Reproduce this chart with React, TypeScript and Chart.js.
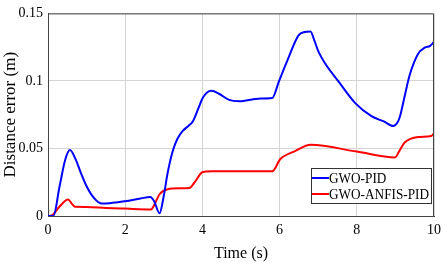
import React, { useEffect, useRef } from "react";
import { Chart, registerables } from "chart.js";

Chart.register(...registerables);

const timeBlue = [0, 0.14, 0.3, 0.45, 0.57, 0.7, 0.85, 1.0, 1.2, 1.38, 1.6, 2.0, 2.4, 2.65, 2.75, 2.89, 3.0, 3.1, 3.23, 3.35, 3.49, 3.65, 3.75, 3.9, 4.0, 4.12, 4.24, 4.43, 4.69, 4.95, 5.46, 5.81, 5.98, 6.2, 6.49, 6.65, 6.8, 6.9, 7.01, 7.18, 7.53, 7.96, 8.38, 8.7, 8.94, 9.05, 9.12, 9.25, 9.37, 9.59, 9.76, 9.9, 10];
const gwoPid = [0, 0.0, 0.022, 0.042, 0.0488, 0.043, 0.032, 0.022, 0.013, 0.0093, 0.0095, 0.011, 0.013, 0.0141, 0.011, 0.002, 0.015, 0.032, 0.048, 0.057, 0.063, 0.067, 0.07, 0.08, 0.087, 0.0915, 0.0927, 0.0905, 0.086, 0.085, 0.0869, 0.0873, 0.0995, 0.115, 0.1337, 0.1362, 0.1366, 0.13, 0.1215, 0.1129, 0.0995, 0.0836, 0.0739, 0.07, 0.0666, 0.069, 0.0739, 0.09, 0.1044, 0.1202, 0.1246, 0.126, 0.1288];

const timeRed = [0, 0.1, 0.3, 0.52, 0.62, 0.7, 1.0, 1.5, 2.0, 2.67, 2.75, 2.89, 3.1, 3.4, 3.66, 3.8, 4.0, 4.26, 5.81, 6.02, 6.4, 6.8, 8.0, 8.99, 9.1, 9.24, 9.59, 9.93, 10];
const gwoAnfisPid = [0, 0.0005, 0.007, 0.0122, 0.009, 0.0068, 0.0067, 0.006, 0.0055, 0.0049, 0.008, 0.0161, 0.0198, 0.0205, 0.0207, 0.025, 0.0324, 0.0331, 0.0331, 0.0422, 0.048, 0.0527, 0.0477, 0.0434, 0.048, 0.0544, 0.0585, 0.0593, 0.0612];

const xTicks = [0, 2, 4, 6, 8, 10];
const yTicks = [0, 0.05, 0.1, 0.15];
const yTickLabels = ["0", "0.05", "0.1", "0.15"];
const seriesNames = ["GWO-PID", "GWO-ANFIS-PID"];
const seriesColors = ["#0000ff", "#ff0000"];

const FONT = "'Liberation Serif', 'Times New Roman', serif";

const legendPlugin = {
  id: "boxLegend",
  afterDatasetsDraw(chart: any) {
    const { ctx, chartArea } = chart;
    const w = 120;
    const h = 35;
    const x = chartArea.right - 3 - w;
    const y = chartArea.bottom - 13 - h;
    ctx.save();
    ctx.fillStyle = "#ffffff";
    ctx.fillRect(x, y, w, h);
    ctx.strokeStyle = "#333333";
    ctx.lineWidth = 1;
    ctx.strokeRect(x + 0.5, y + 0.5, w, h);
    ctx.font = `15px ${FONT}`;
    ctx.textBaseline = "middle";
    const textW = Math.max(...seriesNames.map((n) => ctx.measureText(n).width));
    const sx = Math.min(1, 100 / textW);
    seriesNames.forEach((name, i) => {
      const cy = y + 10 + i * 16;
      ctx.strokeStyle = seriesColors[i];
      ctx.lineWidth = 2;
      ctx.beginPath();
      ctx.moveTo(x + 1, cy);
      ctx.lineTo(x + 18, cy);
      ctx.stroke();
      ctx.fillStyle = "#000000";
      ctx.save();
      ctx.translate(x + 18, cy + 1);
      ctx.scale(sx, 1);
      ctx.fillText(name, 0, 0);
      ctx.restore();
    });
    ctx.restore();
  },
};

export default function App() {
  const ref = useRef<HTMLCanvasElement | null>(null);
  useEffect(() => {
    if (!ref.current) return;
    const chart = new Chart(ref.current, {
      type: "line",
      data: {
        datasets: [
          {
            label: seriesNames[0],
            data: timeBlue.map((t, i) => ({ x: t, y: gwoPid[i] })),
            borderColor: seriesColors[0],
            borderWidth: 2,
            pointRadius: 0,
            cubicInterpolationMode: "monotone",
          },
          {
            label: seriesNames[1],
            data: timeRed.map((t, i) => ({ x: t, y: gwoAnfisPid[i] })),
            borderColor: seriesColors[1],
            borderWidth: 2,
            pointRadius: 0,
            cubicInterpolationMode: "monotone",
          },
        ],
      },
      options: {
        animation: false,
        responsive: false,
        maintainAspectRatio: false,
        layout: { padding: { left: 0, right: 11, top: 11, bottom: 0 } },
        plugins: { legend: { display: false }, tooltip: { enabled: false } },
        scales: {
          x: {
            type: "linear",
            min: 0,
            max: 10,
            afterBuildTicks: (s: any) => {
              s.ticks = xTicks.map((v) => ({ value: v }));
            },
            afterFit: (s: any) => {
              s.height = 47;
            },
            ticks: {
              color: "#000",
              font: { family: FONT, size: 14 },
              padding: 6,
              maxRotation: 0,
              callback: (v: any) => String(v),
            },
            grid: { color: "#d4d4d4", drawTicks: false, lineWidth: 1 },
            border: { color: "#444", width: 1 },
            title: {
              display: true,
              text: "Time (s)",
              color: "#000",
              font: { family: FONT, size: 16 },
              padding: { top: 0, bottom: 0 },
            },
          },
          y: {
            type: "linear",
            min: 0,
            max: 0.15,
            afterBuildTicks: (s: any) => {
              s.ticks = yTicks.map((v) => ({ value: v }));
            },
            afterFit: (s: any) => {
              s.width = 48;
            },
            ticks: {
              color: "#000",
              font: { family: FONT, size: 14 },
              padding: 5,
              callback: (v: any) => {
                const i = yTicks.findIndex((t) => Math.abs(t - v) < 1e-9);
                return i >= 0 ? yTickLabels[i] : "";
              },
            },
            grid: { color: "#d4d4d4", drawTicks: false, lineWidth: 1 },
            border: { color: "#444", width: 1 },
            title: {
              display: true,
              text: "Distance error (m)",
              color: "#000",
              font: { family: FONT, size: 17 },
              padding: { top: 0, bottom: 0 },
            },
          },
        },
      },
      plugins: [
        legendPlugin,
        {
          id: "frame",
          afterDraw(chart: any) {
            const { ctx, chartArea } = chart;
            ctx.save();
            ctx.strokeStyle = "#444";
            ctx.lineWidth = 1;
            ctx.beginPath();
            ctx.moveTo(chartArea.left, chartArea.top + 0.5);
            ctx.lineTo(chartArea.right - 0.5, chartArea.top + 0.5);
            ctx.lineTo(chartArea.right - 0.5, chartArea.bottom);
            ctx.stroke();
            ctx.restore();
          },
        },
      ],
    } as any);
    return () => chart.destroy();
  }, []);
  return (
    <div style={{ position: "fixed", left: 0, top: 0, width: 447, height: 263, background: "#fff" }}>
      <canvas ref={ref} width={447} height={263} style={{ width: 447, height: 263, display: "block" }} />
    </div>
  );
}
